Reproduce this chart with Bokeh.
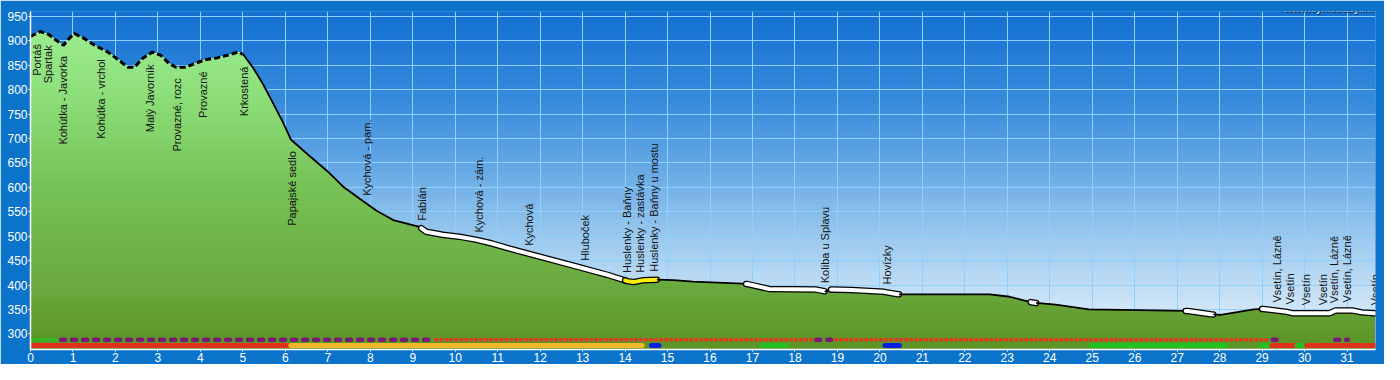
import numpy as np
from bokeh.plotting import figure
from bokeh.models import Label, FixedTicker, Range1d
from bokeh.core.properties import value
from bokeh.embed import file_html
from bokeh.resources import INLINE

# ---------------- data ----------------
prof_km = [0, 0.23, 0.43, 0.62, 0.78, 0.89, 1.03, 1.24, 1.51, 1.82, 2.10, 2.29, 2.45, 2.64,
           2.87, 3.07, 3.26, 3.42, 3.65, 3.88, 4.11, 4.39, 4.66, 4.89, 5.01, 5.24, 5.47,
           5.67, 5.94, 6.13, 6.6, 6.99, 7.38, 7.76, 8.15, 8.54, 8.93, 9.16, 9.32, 9.70,
           10.09, 10.48, 10.87, 11.26, 12.03, 12.81, 13.58, 14.05, 14.2, 14.44, 14.75,
           15.14, 15.6, 16.77, 16.88, 17.39, 18.48, 18.72, 18.86, 19.33, 20.1, 20.42,
           21.19, 22.59, 23.06, 23.6, 24.14, 24.92, 26.47, 27.25, 27.79, 28.02, 28.8,
           29.03, 29.58, 29.73, 30.58, 30.73, 31.12, 31.35, 31.65]
prof_elev = [909, 919, 913, 900, 891, 903, 915, 906, 891, 877, 859, 846, 846, 864,
             877, 870, 854, 846, 846, 854, 861, 865, 871, 877, 872, 845, 812,
             779, 734, 698, 662, 633, 600, 576, 552, 533, 524, 519, 509, 503,
             499, 493, 485, 475, 457, 439, 421, 408, 406, 410, 411,
             410, 407, 403, 402, 392, 391, 387, 391, 390, 386, 381,
             381, 381, 376, 364, 360, 350, 348, 347, 340, 339, 350,
             351, 345, 342, 342, 348, 348, 344, 342]

surface_start = [0.0, 5.0, 9.2, 14.0, 14.75, 16.85, 18.7, 18.85, 20.45, 23.55, 23.68, 27.2, 27.85, 29.0]
surface_end = [5.0, 9.2, 14.0, 14.75, 16.85, 18.7, 18.85, 20.45, 23.55, 23.68, 27.2, 27.85, 29.0, 31.65]
surface_type = ["dashed", "solid", "white", "yellow", "solid", "white", "solid", "white",
                "solid", "white", "solid", "white", "solid", "white"]

dots_start = [0.0, 0.72, 9.55, 18.5, 18.97, 29.25, 30.72]
dots_end = [0.62, 9.5, 18.45, 18.93, 29.15, 29.45, 31.02]
dots_kind = ["green", "purple", "red", "purple", "red", "purple", "purple"]

bars_start = [0.0, 6.13, 14.62, 17.22, 20.12, 24.98, 28.97, 29.23, 29.82, 30.05, 30.3, 31.47]
bars_end = [6.13, 14.4, 14.8, 17.8, 20.46, 28.15, 29.18, 29.8, 29.98, 30.22, 31.38, 31.65]
bars_kind = ["red", "orange", "blue", "green", "blue", "green", "green", "red", "green",
             "red", "red", "red"]

label_km = [0.16, 0.42, 0.77, 1.65, 2.82, 3.45, 4.07, 5.03, 6.15, 7.92, 9.22, 10.57, 11.74,
            13.06, 14.04, 14.35, 14.67, 18.7, 20.17, 29.34, 29.65, 30.04, 30.44, 30.69,
            31.0, 31.65]
label_text = ["Portáš", "Spartak", "Kohútka - Javorka", "Kohútka - vrchol", "Malý Javorník",
              "Provazné, rozc", "Provazné", "Krkostená", "Papajské sedlo", "Kychová - pam.",
              "Fabián", "Kychová - zám.", "Kychová", "Hluboček", "Huslenky - Baňny",
              "Huslenky - zastávka", "Huslenky - Baňny u mostu", "Koliba u Splavu", "Hovízky",
              "Vsetín, Lázně", "Vsetín", "Vsetín", "Vsetín", "Vsetín, Lázně", "Vsetín, Lázně",
              "Vsetín"]

x_ticks = list(range(0, 32))
y_ticks = list(range(300, 951, 50))

# ---------------- drawing ----------------
XMAX = 31.67
YMIN, YMAX = 268, 960
FONT = "Liberation Sans"

km = np.array(prof_km, dtype=float)
el = np.array(prof_elev, dtype=float)

p = figure(width=1384, height=364, output_backend="svg", toolbar_location=None,
           x_range=Range1d(0, XMAX), y_range=Range1d(YMIN, YMAX),
           min_border_left=30, min_border_right=9, min_border_top=11, min_border_bottom=13,
           border_fill_color="#0b73ca", background_fill_color="#0b73ca",
           outline_line_color=None)


def grad(stops, y):
    ys = [s[0] for s in stops]
    return "#%02x%02x%02x" % tuple(int(round(np.interp(y, ys, [s[1][c] for s in stops])))
                                   for c in range(3))


sky_stops = [(268, (230, 242, 252)), (330, (216, 234, 249)), (434, (178, 214, 242)),
             (590, (120, 180, 232)), (770, (56, 140, 220)), (960, (18, 112, 210))]
ground_stops = [(268, (92, 146, 38)), (400, (106, 170, 62)), (600, (118, 194, 86)),
                (800, (142, 224, 124)), (960, (158, 238, 150))]

N = 70
edges = np.linspace(YMIN, YMAX, N + 1)
mids = (edges[:-1] + edges[1:]) / 2
p.quad(left=0, right=XMAX, bottom=edges[:-1], top=edges[1:] + 2,
       fill_color=[grad(sky_stops, m) for m in mids], line_color=None, level="image")

# ground gradient: stacked areas, darker ones below
for k in range(N, 0, -1):
    t = edges[k]
    p.varea(x=km, y1=YMIN, y2=np.minimum(el, t), fill_color=grad(ground_stops, mids[k - 1]))


def seg(s, e):
    inner = km[(km > s) & (km < e)]
    xs = np.concatenate([[s], inner, [e]])
    return xs, np.interp(xs, km, el)


for s, e, t in zip(surface_start, surface_end, surface_type):
    xs, ys = seg(s, e)
    if t == "dashed":
        p.line(xs, ys, line_color="black", line_width=3, line_dash="6 3")
    elif t == "solid":
        p.line(xs, ys, line_color="black", line_width=1.8)
    else:
        p.line(xs, ys, line_color="black", line_width=6.5, line_cap="round", line_join="round")
        p.line(xs, ys, line_color="white" if t == "white" else "#f8f000", line_width=4,
               line_cap="round", line_join="round")

ROW1, ROW2 = 288, 276
dot_style = {"green": dict(line_color="#22c022", line_width=4.2, line_dash="0 5"),
             "red": dict(line_color="#e8361e", line_width=4.2, line_dash="0 5"),
             "purple": dict(line_color="#7a1a78", line_width=4.4, line_dash="4 7")}
for s, e, k in zip(dots_start, dots_end, dots_kind):
    p.line([s, e], [ROW1, ROW1], line_cap="round", **dot_style[k])

bar_col = {"red": "#e2301e", "orange": "#f2b82a", "blue": "#0a1ee6", "green": "#22c022"}
for s, e, k in zip(bars_start, bars_end, bars_kind):
    p.line([s, e], [ROW2, ROW2], line_color=bar_col[k], line_width=5, line_cap="round")

# waypoint labels
lk = np.array(label_km)
le = np.interp(lk, km, el)
lt = np.array(label_text)
below = le > 650
p.text(x=lk[below], y=le[below], text=lt[below], angle=np.pi / 2, text_align="right",
       text_baseline="middle", y_offset=11, text_font=value(FONT), text_font_size="11px",
       text_color="#111111")
p.text(x=lk[~below], y=le[~below], text=lt[~below], angle=np.pi / 2, text_align="left",
       text_baseline="middle", y_offset=-8, text_font=value(FONT), text_font_size="11px",
       text_color="#111111")

# watermark
for dx, dy, c in [(1, -1, "#222222"), (0, 0, "white")]:
    p.add_layout(Label(x=XMAX, y=YMAX, text="www.cyklotrasy.info", text_align="right",
                       text_baseline="middle", x_offset=4 + dx, y_offset=4 + dy,
                       text_font=FONT, text_font_size="11px", text_color=c))

# axes & grid
for ax, ticks in [(p.xaxis, x_ticks), (p.yaxis, y_ticks)]:
    ax.ticker = FixedTicker(ticks=ticks)
    ax.axis_line_color = "white"
    ax.axis_line_width = 1.5
    ax.major_tick_line_color = "white"
    ax.major_tick_in = 0
    ax.major_tick_out = 2
    ax.minor_tick_line_color = None
    ax.major_label_text_color = "white"
    ax.major_label_text_font = FONT
    ax.major_label_text_font_size = "12px"
    ax.major_label_standoff = 1
p.xgrid.ticker = FixedTicker(ticks=x_ticks)
p.ygrid.ticker = FixedTicker(ticks=y_ticks)
for g in (p.xgrid, p.ygrid):
    g.grid_line_color = "#8fd0ff"
    g.grid_line_width = 1

open("out.html", "w").write(file_html(p, INLINE))
